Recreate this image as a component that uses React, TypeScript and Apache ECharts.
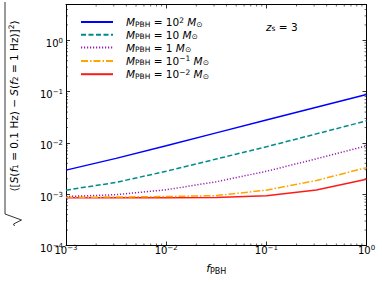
import React, { useEffect, useRef } from "react";
import * as echarts from "echarts";

const fVals = [0.001, 0.00316, 0.01, 0.0316, 0.1, 0.316, 1];
const m2 = [2.95e-3, 5.0e-3, 8.8e-3, 1.57e-2, 2.8e-2, 4.95e-2, 8.8e-2];
const m1 = [1.2e-3, 1.7e-3, 2.8e-3, 4.85e-3, 8.4e-3, 1.5e-2, 2.7e-2];
const m0 = [9.0e-4, 9.8e-4, 1.22e-3, 1.75e-3, 2.8e-3, 4.9e-3, 8.8e-3];
const mm1 = [8.7e-4, 8.8e-4, 9.0e-4, 9.4e-4, 1.2e-3, 1.85e-3, 3.3e-3];
const mm2 = [8.5e-4, 8.5e-4, 8.5e-4, 8.6e-4, 9.3e-4, 1.21e-3, 1.95e-3];

const seriesNames = ["m2", "m1", "m0", "mm1", "mm2"];
const legendExp = ["2", "", "", "−1", "−2"];
const legendPlain = ["", "10", "1", "", ""];
const seriesColors = ["#0000ff", "#008b8b", "#9a1fb0", "#ffa500", "#ff1a1a"];

const xMin = 1e-3, xMax = 1, yMin = 1e-4, yMax = 5;

const FONT = "DejaVu Sans";

function tickLabel(v: number) {
  const l = Math.log10(v);
  const e = Math.round(l);
  if (Math.abs(l - e) > 1e-6) return "";
  return `{b|10}{s|${e < 0 ? "−" + -e : e}}`;
}

const tickRich = {
  b: { fontSize: 10, lineHeight: 12, fontFamily: FONT, color: "#000" },
  s: { fontSize: 7, lineHeight: 2, verticalAlign: "top", fontFamily: FONT, color: "#000" },
};

export default function App() {
  const ref = useRef<HTMLDivElement>(null);
  useEffect(() => {
    if (!ref.current) return;
    const chart = echarts.init(ref.current, undefined, { renderer: "svg" });
    const data = [m2, m1, m0, mm1, mm2];
    const dashes: any[] = ["solid", [5, 2.5], [1.2, 1.8], [7, 2, 1.5, 2], "solid"];

    const minorX: number[] = [];
    for (let k = -3; k <= -1; k++) for (let m = 2; m <= 9; m++) minorX.push(m * Math.pow(10, k));
    const minorY: number[] = [];
    for (let k = -4; k <= 0; k++) for (let m = 2; m <= 9; m++) {
      const v = m * Math.pow(10, k);
      if (v < yMax - 1e-9) minorY.push(v);
    }

    const axisCommon = {
      type: "log" as const,
      logBase: 10,
      axisLine: { show: true, lineStyle: { color: "#000", width: 1 } },
      splitLine: { show: false },
      axisTick: { show: true, inside: true, length: 4, lineStyle: { color: "#000", width: 0.8 } },
    };

    const option: any = {
      animation: false,
      grid: { left: 66, right: 15.5, top: 4.5, bottom: 38.5 },
      xAxis: [
        {
          ...axisCommon,
          min: xMin,
          max: xMax,
          position: "bottom",
          axisLabel: { formatter: tickLabel, rich: tickRich, margin: -1, showMaxLabel: true },
          name: "{i|f}{sb|PBH}",
          nameLocation: "middle",
          nameGap: 16,
          nameTextStyle: {
            rich: {
              i: { fontSize: 11, fontStyle: "italic", fontFamily: FONT, color: "#000", lineHeight: 14 },
              sb: { fontSize: 8, fontFamily: FONT, color: "#000", lineHeight: 6, verticalAlign: "bottom" },
            },
          },
        },
        {
          ...axisCommon,
          min: xMin,
          max: xMax,
          position: "top",
          axisLabel: { show: false },
        },
      ],
      yAxis: [
        {
          ...axisCommon,
          min: yMin,
          max: yMax,
          position: "left",
          axisLabel: {
            formatter: tickLabel,
            rich: tickRich,
            margin: 3,
            padding: [6, 0, 0, 0],
            showMaxLabel: false,
          },
        },
        {
          ...axisCommon,
          min: yMin,
          max: yMax,
          position: "right",
          axisLabel: { show: false },
        },
      ],
      legend: {
        data: seriesNames,
        orient: "vertical",
        left: 80,
        top: 16,
        itemWidth: 32,
        itemHeight: 12,
        itemGap: 1.3,
        padding: 0,
        itemStyle: { opacity: 0 },
        textStyle: {
          padding: [0, 0, 0, 8],
          rich: {
            i: { fontSize: 10.5, fontStyle: "italic", fontFamily: FONT, color: "#000", lineHeight: 12 },
            n: { fontSize: 10.5, fontFamily: FONT, color: "#000", lineHeight: 12 },
            sb: { fontSize: 7.5, fontFamily: FONT, color: "#000", lineHeight: 6, verticalAlign: "bottom" },
            sp: { fontSize: 7.5, fontFamily: FONT, color: "#000", lineHeight: 4, verticalAlign: "top" },
          },
        },
        formatter: (name: string) => {
          const i = seriesNames.indexOf(name);
          const val = legendPlain[i] ? `{n| = ${legendPlain[i]} }` : `{n| = 10}{sp|${legendExp[i]}}{n| }`;
          return `{i|M}{sb|PBH}${val}{i|M}{sb|⊙}`;
        },
      },
      graphic: [
        {
          type: "text",
          left: 266,
          top: 21,
          style: {
            text: "{i|z}{sb|s}{n| = 3}",
            rich: {
              i: { fontSize: 10.5, fontStyle: "italic", fontFamily: FONT, fill: "#000", lineHeight: 12 },
              n: { fontSize: 10.5, fontFamily: FONT, fill: "#000", lineHeight: 12 },
              sb: { fontSize: 7.5, fontFamily: FONT, fill: "#000", lineHeight: 6, verticalAlign: "bottom" },
            },
          },
        },
        {
          type: "group",
          x: 13.5,
          y: 106,
          rotation: Math.PI / 2,
          children: [
            {
              type: "text",
              x: 0,
              y: 0,
              style: {
                text:
                  "{n|⟨[}{i|S}{n|(}{i|f}{sb|1}{n| = 0.1 Hz) − }{i|S}{n|(}{i|f}{sb|2}{n| = 1 Hz)]}{sp|2}{n|⟩}",
                align: "center",
                verticalAlign: "middle",
                rich: {
                  i: { fontSize: 10.5, fontStyle: "italic", fontFamily: FONT, fill: "#000", lineHeight: 12 },
                  n: { fontSize: 10.5, fontFamily: FONT, fill: "#000", lineHeight: 12 },
                  sb: { fontSize: 7.5, fontFamily: FONT, fill: "#000", lineHeight: 6, verticalAlign: "bottom" },
                  sp: { fontSize: 7.5, fontFamily: FONT, fill: "#000", lineHeight: 4, verticalAlign: "top" },
                },
              },
            },
            {
              type: "polyline",
              shape: {
                points: [
                  [-120, 1],
                  [-118, 0],
                  [-114, 8],
                  [-108, -8.5],
                  [104, -8.5],
                ],
              },
              style: { stroke: "#000", lineWidth: 0.8, fill: null },
            },
          ],
        },
      ],
      series: [
        ...data.map((d, i) => ({
          name: seriesNames[i],
          type: "line",
          xAxisIndex: 0,
          yAxisIndex: 0,
          data: fVals.map((f, j) => [f, d[j]]),
          showSymbol: false,
          symbol: "none",
          lineStyle: { color: seriesColors[i], width: 1.5, type: dashes[i], cap: "butt" },
          itemStyle: { color: seriesColors[i] },
          z: 3 + (4 - i),
        })),
        {
          type: "custom",
          name: "minorTicks",
          xAxisIndex: 0,
          yAxisIndex: 0,
          silent: true,
          clip: false,
          data: [[0.01, 0.01]],
          renderItem: (params: any, api: any) => {
            const children: any[] = [];
            const len = 2;
            const st = { stroke: "#000", lineWidth: 0.6 };
            minorX.forEach((x) => {
              const b = api.coord([x, yMin]);
              const t = api.coord([x, yMax]);
              children.push({ type: "line", shape: { x1: b[0], y1: b[1], x2: b[0], y2: b[1] - len }, style: st });
              children.push({ type: "line", shape: { x1: t[0], y1: t[1], x2: t[0], y2: t[1] + len }, style: st });
            });
            minorY.forEach((y) => {
              const l = api.coord([xMin, y]);
              const r = api.coord([xMax, y]);
              children.push({ type: "line", shape: { x1: l[0], y1: l[1], x2: l[0] + len, y2: l[1] }, style: st });
              children.push({ type: "line", shape: { x1: r[0], y1: r[1], x2: r[0] - len, y2: r[1] }, style: st });
            });
            return { type: "group", children };
          },
        },
      ],
    };
    chart.setOption(option);
    return () => chart.dispose();
  }, []);
  return <div ref={ref} style={{ width: 382, height: 284, position: "absolute", left: 0, top: 0 }} />;
}
